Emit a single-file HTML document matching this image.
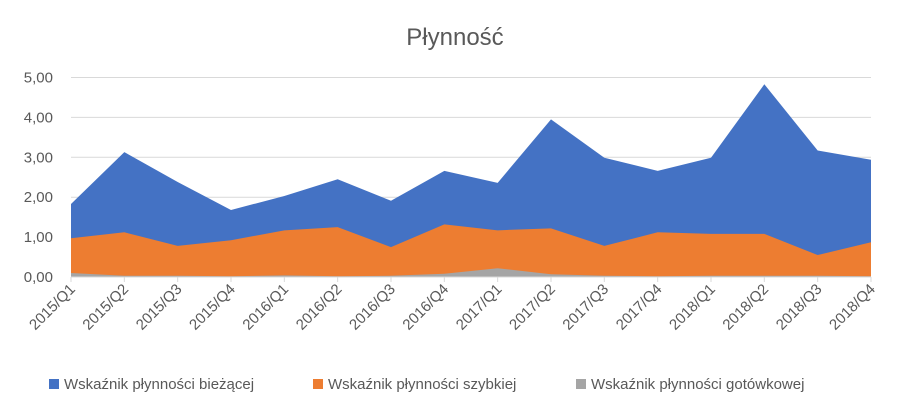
<!DOCTYPE html>
<html><head><meta charset="utf-8"><style>
body{margin:0;background:#fff;}
svg{display:block;font-family:"Liberation Sans",sans-serif;}
</style></head><body>
<svg id="chart" width="910" height="415">
<text x="455" y="45" text-anchor="middle" font-size="24" fill="#595959">Płynność</text>
<g id="grid"></g><g id="areas"></g><g id="xaxis"></g><g id="yaxis"></g>
<g>
<g><rect x="49" y="379" width="10" height="10" fill="#4472c4"/><text x="64" y="389" font-size="15" fill="#595959">Wskaźnik płynności bieżącej</text></g>
<g><rect x="313" y="379" width="10" height="10" fill="#ed7d31"/><text x="328" y="389" font-size="15" fill="#595959">Wskaźnik płynności szybkiej</text></g>
<g><rect x="576" y="379" width="10" height="10" fill="#a5a5a5"/><text x="591" y="389" font-size="15" fill="#595959">Wskaźnik płynności gotówkowej</text></g>
</g>
</svg>
<script>
const categories=["2015/Q1","2015/Q2","2015/Q3","2015/Q4","2016/Q1","2016/Q2","2016/Q3","2016/Q4","2017/Q1","2017/Q2","2017/Q3","2017/Q4","2018/Q1","2018/Q2","2018/Q3","2018/Q4"];
const currentRatio=[1.83,3.13,2.38,1.68,2.03,2.45,1.91,2.66,2.36,3.95,2.99,2.66,2.99,4.83,3.17,2.94];
const quickRatio=[0.97,1.12,0.78,0.92,1.17,1.25,0.75,1.32,1.17,1.22,0.78,1.12,1.08,1.08,0.55,0.87];
const cashRatio=[0.10,0.03,0.03,0.02,0.04,0.02,0.03,0.08,0.22,0.07,0.03,0.02,0.03,0.03,0.03,0.02];
const yTicks=[0,1,2,3,4,5];
const yTickLabels=["0,00","1,00","2,00","3,00","4,00","5,00"];
const NS="http://www.w3.org/2000/svg";
const X0=71,X1=871,Y0=277,Y1=77.5,YMAX=5;
function xs(i){return X0+i*(X1-X0)/(categories.length-1);}
function ys(v){return Y0-(v/YMAX)*(Y0-Y1);}
const grid=document.getElementById('grid'),areas=document.getElementById('areas'),xa=document.getElementById('xaxis'),ya=document.getElementById('yaxis');
yTicks.forEach((t,i)=>{
 if(t>0){const l=document.createElementNS(NS,'line');
 
 
 l.setAttribute('x1',X0);l.setAttribute('x2',X1);l.setAttribute('y1',ys(t));l.setAttribute('y2',ys(t));l.setAttribute('stroke','#d9d9d9');l.setAttribute('stroke-width','1');grid.appendChild(l);}
 const tx=document.createElementNS(NS,'text');
 
 
 tx.setAttribute('x',53);tx.setAttribute('y',ys(t)+5);tx.setAttribute('text-anchor','end');tx.setAttribute('font-size','15');tx.setAttribute('fill','#595959');tx.textContent=yTickLabels[i];ya.appendChild(tx);
});
function area(vals,color,name){
 let d='M'+xs(0)+','+ys(0);
 vals.forEach((v,i)=>{d+=' L'+xs(i)+','+ys(v);});
 d+=' L'+xs(vals.length-1)+','+ys(0)+' Z';
 const p=document.createElementNS(NS,'path');
 
 
 p.setAttribute('d',d);p.setAttribute('fill',color);areas.appendChild(p);
}
area(currentRatio,'#4472c4','area-current-ratio');
area(quickRatio,'#ed7d31','area-quick-ratio');
area(cashRatio,'#a5a5a5','area-cash-ratio');
const ax=document.createElementNS(NS,'line');


ax.setAttribute('x1',X0);ax.setAttribute('x2',X1);ax.setAttribute('y1',Y0);ax.setAttribute('y2',Y0);ax.setAttribute('stroke','#d9d9d9');xa.appendChild(ax);
categories.forEach((c,i)=>{
 const tk=document.createElementNS(NS,'line');
 
 
 tk.setAttribute('x1',xs(i));tk.setAttribute('x2',xs(i));tk.setAttribute('y1',Y0);tk.setAttribute('y2',Y0+5);tk.setAttribute('stroke','#d9d9d9');xa.appendChild(tk);
 const tx=document.createElementNS(NS,'text');
 
 
 const x=xs(i)+5,y=Y0+13;
 tx.setAttribute('x',x);tx.setAttribute('y',y);tx.setAttribute('text-anchor','end');tx.setAttribute('font-size','15');tx.setAttribute('fill','#595959');
 tx.setAttribute('transform','rotate(-45 '+x+' '+y+')');tx.textContent=c;xa.appendChild(tx);
});
</script>
</body></html>
